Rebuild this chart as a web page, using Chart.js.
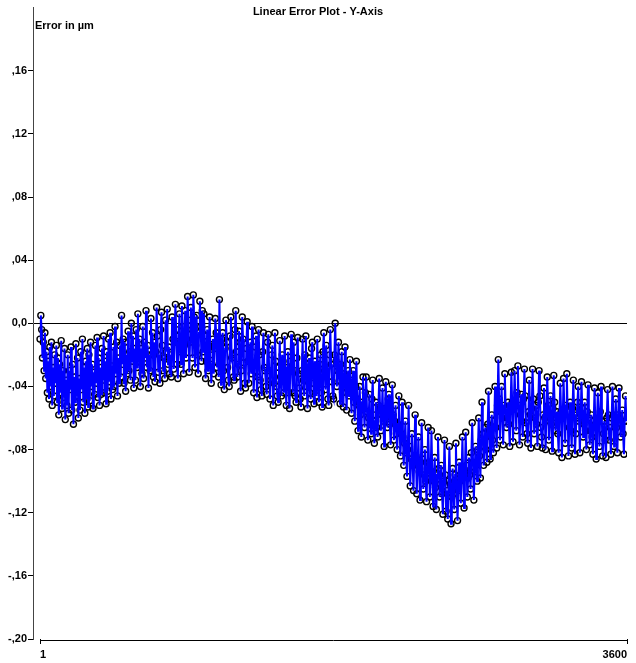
<!DOCTYPE html>
<html>
<head>
<meta charset="utf-8">
<title>Linear Error Plot - Y-Axis</title>
<script src="https://cdn.jsdelivr.net/npm/chart.js@4.4.1/dist/chart.umd.min.js"></script>
<style>
    html, body { margin: 0; padding: 0; background: #fff; }
    #errorChart { display: block; }
</style>
</head>
<body>
<canvas id="errorChart" width="636" height="663"></canvas>
<script>
// Measurement: one reading every 5 positions, starting at position 1
const sampleStart = 1;
const sampleStep = 5;

// Error in µm at each measured position (20 readings per row)
const errorValues = [
    -0.010, 0.005, -0.004, -0.022, -0.012, -0.030, -0.006, -0.035, -0.018, -0.044, -0.024, -0.048, -0.015, -0.040, -0.012, -0.052, -0.028, -0.046, -0.020, -0.038,
    -0.014, -0.050, -0.022, -0.058, -0.026, -0.044, -0.011, -0.054, -0.030, -0.047, -0.016, -0.061, -0.036, -0.052, -0.020, -0.057, -0.030, -0.042, -0.015, -0.055,
    -0.026, -0.064, -0.034, -0.050, -0.013, -0.046, -0.022, -0.060, -0.035, -0.055, -0.018, -0.042, -0.010, -0.050, -0.028, -0.057, -0.024, -0.048, -0.016, -0.053,
    -0.020, -0.049, -0.012, -0.040, -0.026, -0.054, -0.031, -0.045, -0.014, -0.038, -0.009, -0.047, -0.022, -0.052, -0.028, -0.045, -0.016, -0.036, -0.008, -0.044,
    -0.024, -0.051, -0.018, -0.043, -0.010, -0.037, -0.006, -0.048, -0.027, -0.042, -0.015, -0.040, -0.002, -0.032, -0.012, -0.046, -0.022, -0.038, -0.014, -0.034,
    0.005, -0.026, -0.010, -0.038, -0.012, -0.043, -0.020, -0.032, -0.005, -0.030, -0.018, -0.036, 0.000, -0.024, -0.008, -0.041, -0.016, -0.036, -0.004, -0.028,
    0.006, -0.024, -0.010, -0.040, -0.016, -0.032, -0.002, -0.035, -0.012, -0.022, 0.008, -0.028, -0.014, -0.041, -0.020, -0.030, 0.003, -0.020, -0.006, -0.034,
    -0.012, -0.037, -0.018, 0.010, -0.008, -0.031, -0.020, -0.038, -0.004, 0.007, -0.014, -0.030, -0.022, -0.035, 0.002, -0.018, 0.009, -0.026, -0.015, -0.032,
    -0.020, -0.034, 0.004, -0.010, -0.029, -0.012, 0.012, -0.004, -0.026, -0.035, -0.008, 0.006, -0.018, -0.026, 0.011, -0.002, -0.032, -0.014, 0.008, -0.022,
    -0.010, 0.017, 0.002, -0.031, -0.012, 0.010, -0.004, -0.022, 0.018, 0.004, -0.028, -0.014, 0.005, -0.020, -0.032, -0.006, 0.014, -0.002, -0.024, 0.008,
    -0.018, 0.006, -0.008, -0.035, -0.024, -0.004, -0.030, -0.014, 0.004, -0.020, -0.038, -0.026, -0.010, -0.032, -0.016, 0.003, -0.006, -0.028, -0.012, -0.034,
    0.015, -0.020, -0.039, -0.010, -0.006, -0.030, -0.042, -0.016, 0.002, -0.012, -0.028, -0.036, -0.040, -0.008, 0.004, -0.022, -0.020, -0.034, -0.036, -0.004,
    0.008, -0.018, -0.034, -0.026, -0.005, -0.012, -0.043, -0.030, 0.004, -0.010, -0.025, -0.038, -0.041, -0.016, 0.001, -0.024, -0.038, -0.020, -0.012, -0.032,
    -0.002, -0.026, -0.044, -0.030, -0.015, -0.008, -0.047, -0.034, -0.004, -0.020, -0.036, -0.042, -0.046, -0.018, -0.006, -0.028, -0.030, -0.040, -0.045, -0.012,
    -0.007, -0.030, -0.048, -0.036, -0.020, -0.014, -0.052, -0.038, -0.006, -0.024, -0.040, -0.046, -0.050, -0.028, -0.011, -0.034, -0.046, -0.020, -0.024, -0.044,
    -0.008, -0.036, -0.052, -0.028, -0.018, -0.044, -0.054, -0.024, -0.007, -0.030, -0.044, -0.012, -0.030, -0.046, -0.050, -0.022, -0.009, -0.032, -0.041, -0.048,
    -0.053, -0.030, -0.010, -0.036, -0.046, -0.020, -0.008, -0.040, -0.054, -0.026, -0.022, -0.044, -0.048, -0.016, -0.012, -0.038, -0.051, -0.024, -0.030, -0.046,
    -0.010, -0.034, -0.050, -0.026, -0.020, -0.044, -0.053, -0.018, -0.006, -0.030, -0.042, -0.014, -0.028, -0.048, -0.052, -0.020, -0.004, -0.026, -0.037, -0.046,
    -0.048, -0.020, 0.000, -0.024, -0.040, -0.030, -0.012, -0.036, -0.051, -0.026, -0.018, -0.044, -0.053, -0.032, -0.015, -0.040, -0.055, -0.036, -0.030, -0.046,
    -0.023, -0.044, -0.057, -0.036, -0.030, -0.050, -0.062, -0.040, -0.024, -0.048, -0.068, -0.052, -0.040, -0.058, -0.072, -0.050, -0.034, -0.054, -0.066, -0.044,
    -0.034, -0.056, -0.074, -0.060, -0.045, -0.064, -0.070, -0.048, -0.036, -0.058, -0.076, -0.062, -0.050, -0.066, -0.072, -0.052, -0.035, -0.054, -0.068, -0.058,
    -0.041, -0.062, -0.078, -0.054, -0.037, -0.056, -0.066, -0.048, -0.045, -0.064, -0.077, -0.060, -0.039, -0.058, -0.074, -0.062, -0.052, -0.070, -0.080, -0.064,
    -0.046, -0.068, -0.084, -0.070, -0.050, -0.072, -0.090, -0.076, -0.062, -0.082, -0.097, -0.080, -0.052, -0.078, -0.103, -0.086, -0.070, -0.090, -0.106, -0.084,
    -0.058, -0.084, -0.108, -0.090, -0.072, -0.094, -0.112, -0.088, -0.063, -0.086, -0.105, -0.096, -0.080, -0.100, -0.113, -0.092, -0.066, -0.088, -0.110, -0.098,
    -0.068, -0.094, -0.116, -0.100, -0.085, -0.104, -0.118, -0.096, -0.072, -0.092, -0.110, -0.102, -0.090, -0.108, -0.121, -0.100, -0.074, -0.096, -0.119, -0.106,
    -0.124, -0.100, -0.078, -0.102, -0.127, -0.110, -0.092, -0.108, -0.118, -0.096, -0.076, -0.104, -0.125, -0.106, -0.088, -0.100, -0.114, -0.094, -0.072, -0.098,
    -0.117, -0.094, -0.069, -0.090, -0.110, -0.098, -0.085, -0.096, -0.105, -0.082, -0.063, -0.088, -0.112, -0.094, -0.078, -0.090, -0.100, -0.080, -0.060, -0.084,
    -0.098, -0.074, -0.050, -0.070, -0.090, -0.078, -0.066, -0.080, -0.088, -0.064, -0.043, -0.068, -0.086, -0.072, -0.058, -0.074, -0.082, -0.062, -0.040, -0.066,
    -0.079, -0.052, -0.023, -0.048, -0.074, -0.056, -0.040, -0.060, -0.077, -0.052, -0.032, -0.054, -0.066, -0.060, -0.050, -0.064, -0.078, -0.054, -0.031, -0.050,
    -0.075, -0.054, -0.030, -0.050, -0.068, -0.044, -0.027, -0.052, -0.077, -0.058, -0.045, -0.062, -0.072, -0.048, -0.029, -0.046, -0.063, -0.070, -0.076, -0.056,
    -0.036, -0.058, -0.079, -0.054, -0.029, -0.048, -0.070, -0.060, -0.052, -0.064, -0.078, -0.050, -0.030, -0.046, -0.066, -0.072, -0.079, -0.058, -0.041, -0.060,
    -0.080, -0.056, -0.034, -0.052, -0.074, -0.062, -0.046, -0.064, -0.081, -0.054, -0.033, -0.050, -0.068, -0.060, -0.056, -0.070, -0.082, -0.058, -0.038, -0.056,
    -0.085, -0.060, -0.035, -0.054, -0.076, -0.052, -0.032, -0.056, -0.084, -0.066, -0.050, -0.068, -0.079, -0.054, -0.036, -0.058, -0.083, -0.070, -0.060, -0.050,
    -0.040, -0.062, -0.082, -0.058, -0.037, -0.054, -0.072, -0.064, -0.050, -0.068, -0.080, -0.056, -0.039, -0.060, -0.077, -0.068, -0.058, -0.072, -0.083, -0.062,
    -0.041, -0.064, -0.086, -0.062, -0.044, -0.060, -0.078, -0.056, -0.040, -0.062, -0.084, -0.070, -0.062, -0.074, -0.085, -0.060, -0.042, -0.058, -0.074, -0.066,
    -0.083, -0.060, -0.040, -0.058, -0.078, -0.064, -0.048, -0.066, -0.082, -0.058, -0.041, -0.060, -0.072, -0.064, -0.055, -0.070, -0.083, -0.062, -0.046, -0.062
];

const xTickValues = [1, 3600];
const yTickValues = [-0.20, -0.16, -0.12, -0.08, -0.04, 0, 0.04, 0.08, 0.12, 0.16];
const yTickLabels = ['-,20', '-,16', '-,12', '-,08', '-,04', '0,0', ',04', ',08', ',12', ',16'];

const points = errorValues.map((v, i) => ({ x: sampleStart + i * sampleStep, y: v }));

const labelFont = { family: 'Liberation Sans, Arial, sans-serif', size: 11, weight: 'bold' };

// titles and the bottom axis line are drawn by hand
const decorations = {
    id: 'decorations',
    afterDraw(chart) {
        const ctx = chart.ctx;
        const area = chart.chartArea;
        const xs = chart.scales.x;
        ctx.save();
        ctx.fillStyle = '#000';
        ctx.font = 'bold 11px "Liberation Sans", Arial, sans-serif';
        ctx.textBaseline = 'middle';
        ctx.textAlign = 'center';
        ctx.fillText('Linear Error Plot - Y-Axis', 318, 12);
        ctx.textAlign = 'left';
        ctx.fillText('Error in µm', 35, 26);

        ctx.strokeStyle = '#000';
        ctx.lineWidth = 1;
        ctx.beginPath();
        ctx.moveTo(xs.getPixelForValue(1), area.bottom + 1.5);
        ctx.lineTo(xs.getPixelForValue(3600), area.bottom + 1.5);
        ctx.stroke();
        ctx.restore();
    }
};

new Chart(document.getElementById('errorChart').getContext('2d'), {
    type: 'scatter',
    data: {
        datasets: [
            {
                // blue trace on top
                data: points,
                showLine: true,
                borderColor: '#0000ff',
                borderWidth: 2,
                pointRadius: 0,
                order: 1
            },
            {
                // black ring at every reading
                data: points,
                showLine: false,
                pointRadius: 3,
                pointBorderWidth: 1.4,
                pointBorderColor: '#000',
                pointBackgroundColor: 'rgba(255,255,255,0)',
                order: 2
            }
        ]
    },
    options: {
        responsive: false,
        animation: false,
        layout: { padding: { top: 6, right: 9, left: 0, bottom: 0 } },
        plugins: {
            legend: { display: false },
            tooltip: { enabled: false },
            title: { display: false }
        },
        scales: {
            x: {
                type: 'linear',
                min: -42,
                max: 3600,
                afterBuildTicks: (scale) => { scale.ticks = xTickValues.map(v => ({ value: v })); },
                afterFit: (scale) => { scale.height = 24; },
                border: { display: false },
                grid: { drawOnChartArea: false, tickLength: 5, color: '#000' },
                ticks: {
                    align: 'inner',
                    maxRotation: 0,
                    padding: 4,
                    color: '#000',
                    font: labelFont,
                    callback: (v) => String(v)
                }
            },
            y: {
                min: -0.2,
                max: 0.2,
                afterBuildTicks: (scale) => { scale.ticks = yTickValues.map(v => ({ value: v })); },
                afterFit: (scale) => { scale.width = 33; },
                border: { display: true, color: '#444', width: 1 },
                grid: {
                    tickLength: 5,
                    tickColor: '#000',
                    color: (c) => (c.tick && Math.abs(c.tick.value) < 1e-9 ? '#000' : 'rgba(0,0,0,0)')
                },
                ticks: {
                    padding: 1,
                    color: '#000',
                    font: labelFont,
                    callback: (v) => {
                        const i = yTickValues.findIndex(t => Math.abs(t - v) < 1e-9);
                        return i >= 0 ? yTickLabels[i] : '';
                    }
                }
            }
        }
    },
    plugins: [decorations]
});
</script>
</body>
</html>
